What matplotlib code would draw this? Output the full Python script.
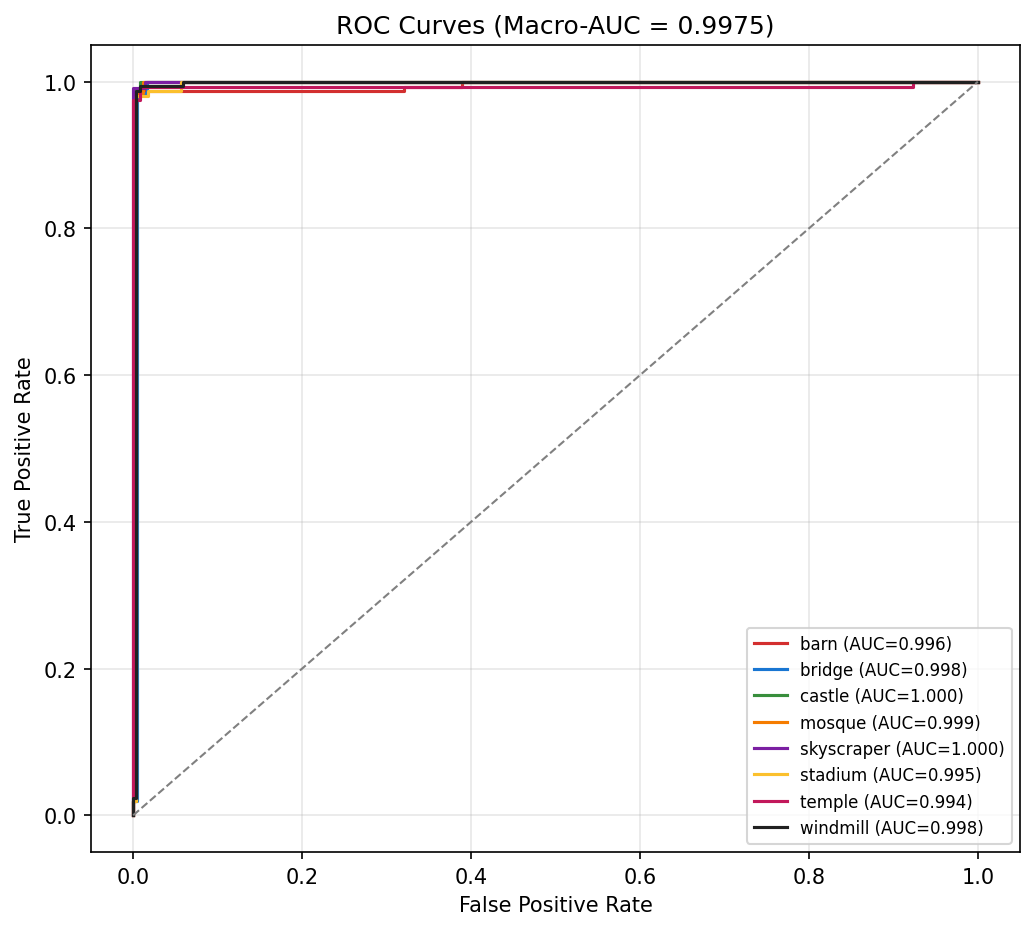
import numpy as np
import matplotlib
matplotlib.use("Agg")
from matplotlib import pyplot as plt

classes = ["barn", "bridge", "castle", "mosque", "skyscraper", "stadium", "temple", "windmill"]
aucs = [0.996, 0.998, 1.000, 0.999, 1.000, 0.995, 0.994, 0.998]
macro_auc = 0.9975
colors = ["#d32f2f", "#1976d2", "#388e3c", "#f57c00", "#7b1fa2", "#fbc02d", "#c2185b", "#212121"]

# ROC points (step curves)
fpr_barn = [0.0, 0.0, 0.002, 0.002, 0.006, 0.006, 0.321, 0.321, 0.389, 0.389, 1.0]
tpr_barn = [0.0, 0.02, 0.02, 0.975, 0.975, 0.988, 0.988, 0.993, 0.993, 1.0, 1.0]

fpr_bridge = [0.0, 0.0, 0.004, 0.004, 0.016, 0.016, 0.185, 0.185, 1.0]
tpr_bridge = [0.0, 0.02, 0.02, 0.985, 0.985, 0.9995, 0.9995, 1.0, 1.0]

fpr_castle = [0.0, 0.0, 0.003, 0.003, 0.008, 0.008, 1.0]
tpr_castle = [0.0, 0.02, 0.02, 0.99, 0.99, 1.0, 1.0]

fpr_mosque = [0.0, 0.0, 0.003, 0.003, 0.012, 0.012, 0.709, 0.709, 1.0]
tpr_mosque = [0.0, 0.02, 0.02, 0.985, 0.985, 0.9995, 0.9995, 1.0, 1.0]

fpr_sky = [0.0, 0.0, 0.014, 0.014, 0.059, 0.059, 1.0]
tpr_sky = [0.0, 0.992, 0.992, 0.999, 0.999, 1.0, 1.0]

fpr_stadium = [0.0, 0.0, 0.003, 0.003, 0.018, 0.018, 0.057, 0.057, 1.0]
tpr_stadium = [0.0, 0.02, 0.02, 0.98, 0.98, 0.988, 0.988, 1.0, 1.0]

fpr_temple = [0.0, 0.0, 0.008, 0.008, 0.923, 0.923, 1.0]
tpr_temple = [0.0, 0.975, 0.975, 0.993, 0.993, 1.0, 1.0]

fpr_windmill = [0.0, 0.0, 0.003, 0.003, 0.008, 0.008, 0.059, 0.059, 1.0]
tpr_windmill = [0.0, 0.023, 0.023, 0.988, 0.988, 0.994, 0.994, 1.0, 1.0]

fprs = [fpr_barn, fpr_bridge, fpr_castle, fpr_mosque, fpr_sky, fpr_stadium, fpr_temple, fpr_windmill]
tprs = [tpr_barn, tpr_bridge, tpr_castle, tpr_mosque, tpr_sky, tpr_stadium, tpr_temple, tpr_windmill]

fig, ax = plt.subplots(figsize=(1036 / 150, 932 / 150), dpi=150)
fig.subplots_adjust(left=0.0878, right=0.9846, top=0.9506, bottom=0.0848)

for name, auc, c, fp, tp in zip(classes, aucs, colors, fprs, tprs):
    ax.plot(fp, tp, color=c, lw=1.5, label=f"{name} (AUC={auc:.3f})")

ax.plot([0, 1], [0, 1], color="gray", ls="--", lw=1)

ax.set_xlabel("False Positive Rate")
ax.set_ylabel("True Positive Rate")
ax.set_title(f"ROC Curves (Macro-AUC = {macro_auc:.4f})")
ax.grid(True, alpha=0.3)
ax.legend(loc="lower right", fontsize=8)

fig.savefig("out.png", dpi=150)
